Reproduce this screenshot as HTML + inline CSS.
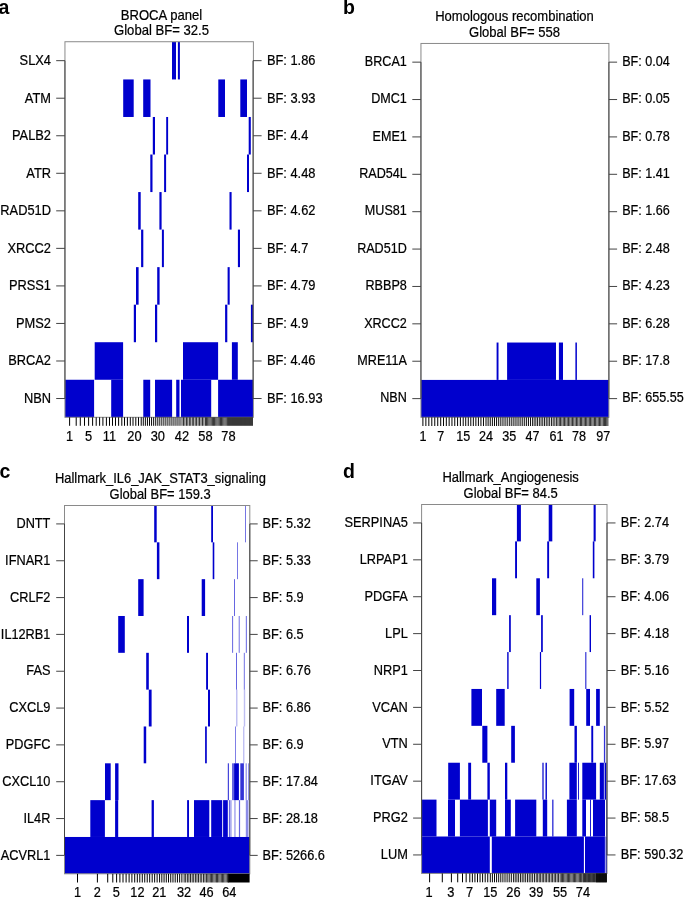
<!DOCTYPE html><html><head><meta charset="utf-8"><title>Figure</title><style>html,body{margin:0;padding:0;background:#fff;overflow:hidden;}svg{display:block;will-change:transform;}text{font-family:"Liberation Sans", sans-serif;}</style></head><body>
<svg width="685" height="898" viewBox="0 0 685 898">
<rect x="0" y="0" width="685" height="898" fill="#fff"/>
<g id="panel-a">
<text transform="translate(-1.40,13.50) scale(1,1.0)" font-size="19.5" font-weight="bold">a</text>
<text transform="translate(161.50,19.50) scale(1,1.11)" font-size="13.1" text-anchor="middle" stroke="#000" stroke-width="0.2">BROCA panel</text>
<text transform="translate(161.50,35.10) scale(1,1.11)" font-size="13.1" text-anchor="middle" stroke="#000" stroke-width="0.2">Global BF= 32.5</text>
<rect x="172.00" y="41.90" width="4.00" height="37.54" fill="#0000CD"/>
<rect x="177.90" y="41.90" width="2.00" height="37.54" fill="#0000CD"/>
<rect x="123.20" y="79.44" width="10.50" height="37.54" fill="#0000CD"/>
<rect x="143.20" y="79.44" width="7.30" height="37.54" fill="#0000CD"/>
<rect x="218.30" y="79.44" width="6.70" height="37.54" fill="#0000CD"/>
<rect x="240.30" y="79.44" width="6.70" height="37.54" fill="#0000CD"/>
<rect x="152.80" y="116.98" width="2.20" height="37.54" fill="#0000CD"/>
<rect x="166.20" y="116.98" width="1.90" height="37.54" fill="#0000CD"/>
<rect x="248.70" y="116.98" width="2.10" height="37.54" fill="#0000CD"/>
<rect x="150.30" y="154.52" width="2.20" height="37.54" fill="#0000CD"/>
<rect x="164.10" y="154.52" width="2.00" height="37.54" fill="#0000CD"/>
<rect x="247.00" y="154.52" width="2.00" height="37.54" fill="#0000CD"/>
<rect x="138.20" y="192.06" width="2.50" height="37.54" fill="#0000CD"/>
<rect x="159.40" y="192.06" width="2.20" height="37.54" fill="#0000CD"/>
<rect x="229.50" y="192.06" width="2.10" height="37.54" fill="#0000CD"/>
<rect x="141.10" y="229.60" width="2.20" height="37.54" fill="#0000CD"/>
<rect x="161.90" y="229.60" width="2.00" height="37.54" fill="#0000CD"/>
<rect x="237.90" y="229.60" width="2.10" height="37.54" fill="#0000CD"/>
<rect x="136.00" y="267.14" width="2.60" height="37.54" fill="#0000CD"/>
<rect x="157.20" y="267.14" width="2.40" height="37.54" fill="#0000CD"/>
<rect x="227.60" y="267.14" width="2.10" height="37.54" fill="#0000CD"/>
<rect x="133.80" y="304.68" width="2.20" height="37.54" fill="#0000CD"/>
<rect x="155.00" y="304.68" width="2.20" height="37.54" fill="#0000CD"/>
<rect x="225.10" y="304.68" width="2.20" height="37.54" fill="#0000CD"/>
<rect x="250.90" y="304.68" width="2.10" height="37.54" fill="#0000CD"/>
<rect x="94.70" y="342.22" width="28.40" height="37.54" fill="#0000CD"/>
<rect x="183.00" y="342.22" width="35.10" height="37.54" fill="#0000CD"/>
<rect x="231.90" y="342.22" width="5.90" height="37.54" fill="#0000CD"/>
<rect x="64.95" y="379.76" width="29.15" height="37.54" fill="#0000CD"/>
<rect x="111.20" y="379.76" width="11.90" height="37.54" fill="#0000CD"/>
<rect x="143.30" y="379.76" width="6.90" height="37.54" fill="#0000CD"/>
<rect x="155.00" y="379.76" width="17.10" height="37.54" fill="#0000CD"/>
<rect x="176.20" y="379.76" width="3.30" height="37.54" fill="#0000CD"/>
<rect x="181.00" y="379.76" width="30.20" height="37.54" fill="#0000CD"/>
<rect x="218.10" y="379.76" width="34.90" height="37.54" fill="#0000CD"/>
<rect x="64.95" y="41.73" width="188.45" height="375.57" fill="none" stroke="#8a8a8a" stroke-width="1"/>
<path d="M64.95 60.67V398.53M253.0 60.67V398.53" stroke="#444" stroke-width="1" fill="none"/>
<path d="M56.2 60.67H64.95M253.0 60.67H261.6M56.2 98.21H64.95M253.0 98.21H261.6M56.2 135.75H64.95M253.0 135.75H261.6M56.2 173.29H64.95M253.0 173.29H261.6M56.2 210.83H64.95M253.0 210.83H261.6M56.2 248.37H64.95M253.0 248.37H261.6M56.2 285.91H64.95M253.0 285.91H261.6M56.2 323.45H64.95M253.0 323.45H261.6M56.2 360.99H64.95M253.0 360.99H261.6M56.2 398.53H64.95M253.0 398.53H261.6" stroke="#444" stroke-width="1" fill="none"/>
<text transform="translate(51.00,65.07) scale(1,1.11)" font-size="12.85" text-anchor="end" stroke="#000" stroke-width="0.2">SLX4</text>
<text transform="translate(266.90,65.07) scale(1,1.11)" font-size="12.85" stroke="#000" stroke-width="0.2">BF: 1.86</text>
<text transform="translate(51.00,102.61) scale(1,1.11)" font-size="12.85" text-anchor="end" stroke="#000" stroke-width="0.2">ATM</text>
<text transform="translate(266.90,102.61) scale(1,1.11)" font-size="12.85" stroke="#000" stroke-width="0.2">BF: 3.93</text>
<text transform="translate(51.00,140.15) scale(1,1.11)" font-size="12.85" text-anchor="end" stroke="#000" stroke-width="0.2">PALB2</text>
<text transform="translate(266.90,140.15) scale(1,1.11)" font-size="12.85" stroke="#000" stroke-width="0.2">BF: 4.4</text>
<text transform="translate(51.00,177.69) scale(1,1.11)" font-size="12.85" text-anchor="end" stroke="#000" stroke-width="0.2">ATR</text>
<text transform="translate(266.90,177.69) scale(1,1.11)" font-size="12.85" stroke="#000" stroke-width="0.2">BF: 4.48</text>
<text transform="translate(51.00,215.23) scale(1,1.11)" font-size="12.85" text-anchor="end" stroke="#000" stroke-width="0.2">RAD51D</text>
<text transform="translate(266.90,215.23) scale(1,1.11)" font-size="12.85" stroke="#000" stroke-width="0.2">BF: 4.62</text>
<text transform="translate(51.00,252.77) scale(1,1.11)" font-size="12.85" text-anchor="end" stroke="#000" stroke-width="0.2">XRCC2</text>
<text transform="translate(266.90,252.77) scale(1,1.11)" font-size="12.85" stroke="#000" stroke-width="0.2">BF: 4.7</text>
<text transform="translate(51.00,290.31) scale(1,1.11)" font-size="12.85" text-anchor="end" stroke="#000" stroke-width="0.2">PRSS1</text>
<text transform="translate(266.90,290.31) scale(1,1.11)" font-size="12.85" stroke="#000" stroke-width="0.2">BF: 4.79</text>
<text transform="translate(51.00,327.85) scale(1,1.11)" font-size="12.85" text-anchor="end" stroke="#000" stroke-width="0.2">PMS2</text>
<text transform="translate(266.90,327.85) scale(1,1.11)" font-size="12.85" stroke="#000" stroke-width="0.2">BF: 4.9</text>
<text transform="translate(51.00,365.39) scale(1,1.11)" font-size="12.85" text-anchor="end" stroke="#000" stroke-width="0.2">BRCA2</text>
<text transform="translate(266.90,365.39) scale(1,1.11)" font-size="12.85" stroke="#000" stroke-width="0.2">BF: 4.46</text>
<text transform="translate(51.00,402.93) scale(1,1.11)" font-size="12.85" text-anchor="end" stroke="#000" stroke-width="0.2">NBN</text>
<text transform="translate(266.90,402.93) scale(1,1.11)" font-size="12.85" stroke="#000" stroke-width="0.2">BF: 16.93</text>
<rect x="69.10" y="417.3" width="1.00" height="8.50" fill="#000"/>
<rect x="75.70" y="417.3" width="1.00" height="8.50" fill="#000"/>
<rect x="79.80" y="417.3" width="1.00" height="8.50" fill="#000"/>
<rect x="84.00" y="417.3" width="1.00" height="8.50" fill="#000"/>
<rect x="88.10" y="417.3" width="1.00" height="8.50" fill="#000"/>
<rect x="92.10" y="417.3" width="1.00" height="8.50" fill="#000"/>
<rect x="95.70" y="417.3" width="1.00" height="8.50" fill="#000"/>
<rect x="99.10" y="417.3" width="1.00" height="8.50" fill="#000"/>
<rect x="102.40" y="417.3" width="1.00" height="8.50" fill="#000"/>
<rect x="105.90" y="417.3" width="1.00" height="8.50" fill="#000"/>
<rect x="109.00" y="417.3" width="1.00" height="8.50" fill="#000"/>
<rect x="112.00" y="417.3" width="1.00" height="8.50" fill="#000"/>
<rect x="115.00" y="417.3" width="1.00" height="8.50" fill="#000"/>
<rect x="118.10" y="417.3" width="1.00" height="8.50" fill="#000"/>
<rect x="121.30" y="417.3" width="1.00" height="8.50" fill="#000"/>
<rect x="124.00" y="417.3" width="1.00" height="8.50" fill="#000"/>
<rect x="126.90" y="417.3" width="1.00" height="8.50" fill="#000"/>
<rect x="129.80" y="417.3" width="1.00" height="8.50" fill="#000"/>
<rect x="132.50" y="417.3" width="1.00" height="8.50" fill="#000"/>
<rect x="135.30" y="417.3" width="1.00" height="8.50" fill="#000"/>
<rect x="138.00" y="417.3" width="1.00" height="8.50" fill="#000"/>
<rect x="140.72" y="417.3" width="0.97" height="8.50" fill="#000"/>
<rect x="142.79" y="417.3" width="0.97" height="8.50" fill="#000"/>
<rect x="144.87" y="417.3" width="0.97" height="8.50" fill="#000"/>
<rect x="146.94" y="417.3" width="0.97" height="8.50" fill="#000"/>
<rect x="149.02" y="417.3" width="0.97" height="8.50" fill="#000"/>
<rect x="151.09" y="417.3" width="0.97" height="8.50" fill="#000"/>
<rect x="153.17" y="417.3" width="0.97" height="8.50" fill="#000"/>
<rect x="155.24" y="417.3" width="0.97" height="8.50" fill="#000"/>
<rect x="157.33" y="417.3" width="0.95" height="8.50" fill="#000"/>
<rect x="159.34" y="417.3" width="0.95" height="8.50" fill="#000"/>
<rect x="161.36" y="417.3" width="0.95" height="8.50" fill="#000"/>
<rect x="163.38" y="417.3" width="0.95" height="8.50" fill="#000"/>
<rect x="165.39" y="417.3" width="0.95" height="8.50" fill="#000"/>
<rect x="167.41" y="417.3" width="0.95" height="8.50" fill="#000"/>
<rect x="169.43" y="417.3" width="0.95" height="8.50" fill="#000"/>
<rect x="171.44" y="417.3" width="0.95" height="8.50" fill="#000"/>
<rect x="173.46" y="417.3" width="0.95" height="8.50" fill="#000"/>
<rect x="175.48" y="417.3" width="0.95" height="8.50" fill="#000"/>
<rect x="177.49" y="417.3" width="0.95" height="8.50" fill="#000"/>
<rect x="179.51" y="417.3" width="0.95" height="8.50" fill="#000"/>
<rect x="181.60" y="417.3" width="0.80" height="8.50" fill="#000"/>
<rect x="183.06" y="417.3" width="0.80" height="8.50" fill="#000"/>
<rect x="184.53" y="417.3" width="0.80" height="8.50" fill="#000"/>
<rect x="185.99" y="417.3" width="0.80" height="8.50" fill="#000"/>
<rect x="187.45" y="417.3" width="0.80" height="8.50" fill="#000"/>
<rect x="188.91" y="417.3" width="0.80" height="8.50" fill="#000"/>
<rect x="190.38" y="417.3" width="0.80" height="8.50" fill="#000"/>
<rect x="191.84" y="417.3" width="0.80" height="8.50" fill="#000"/>
<rect x="193.30" y="417.3" width="0.80" height="8.50" fill="#000"/>
<rect x="194.76" y="417.3" width="0.80" height="8.50" fill="#000"/>
<rect x="196.23" y="417.3" width="0.80" height="8.50" fill="#000"/>
<rect x="197.69" y="417.3" width="0.80" height="8.50" fill="#000"/>
<rect x="199.15" y="417.3" width="0.80" height="8.50" fill="#000"/>
<rect x="200.61" y="417.3" width="0.80" height="8.50" fill="#000"/>
<rect x="202.08" y="417.3" width="0.80" height="8.50" fill="#000"/>
<rect x="203.54" y="417.3" width="0.80" height="8.50" fill="#000"/>
<rect x="205.01" y="417.3" width="0.78" height="8.50" fill="#000"/>
<rect x="206.17" y="417.3" width="0.78" height="8.50" fill="#000"/>
<rect x="207.32" y="417.3" width="0.78" height="8.50" fill="#000"/>
<rect x="208.48" y="417.3" width="0.78" height="8.50" fill="#000"/>
<rect x="209.63" y="417.3" width="0.78" height="8.50" fill="#000"/>
<rect x="210.79" y="417.3" width="0.78" height="8.50" fill="#000"/>
<rect x="211.94" y="417.3" width="0.78" height="8.50" fill="#000"/>
<rect x="213.10" y="417.3" width="0.78" height="8.50" fill="#000"/>
<rect x="214.25" y="417.3" width="0.78" height="8.50" fill="#000"/>
<rect x="215.41" y="417.3" width="0.78" height="8.50" fill="#000"/>
<rect x="216.56" y="417.3" width="0.78" height="8.50" fill="#000"/>
<rect x="217.72" y="417.3" width="0.78" height="8.50" fill="#000"/>
<rect x="218.87" y="417.3" width="0.78" height="8.50" fill="#000"/>
<rect x="220.03" y="417.3" width="0.78" height="8.50" fill="#000"/>
<rect x="221.18" y="417.3" width="0.78" height="8.50" fill="#000"/>
<rect x="222.34" y="417.3" width="0.78" height="8.50" fill="#000"/>
<rect x="223.49" y="417.3" width="0.78" height="8.50" fill="#000"/>
<rect x="224.65" y="417.3" width="0.78" height="8.50" fill="#000"/>
<rect x="225.80" y="417.3" width="0.78" height="8.50" fill="#000"/>
<rect x="226.96" y="417.3" width="0.78" height="8.50" fill="#000"/>
<rect x="228.11" y="417.3" width="0.78" height="8.50" fill="#000"/>
<rect x="229.11" y="417.3" width="0.78" height="8.50" fill="#000"/>
<rect x="230.12" y="417.3" width="0.78" height="8.50" fill="#000"/>
<rect x="231.12" y="417.3" width="0.78" height="8.50" fill="#000"/>
<rect x="232.13" y="417.3" width="0.78" height="8.50" fill="#000"/>
<rect x="233.13" y="417.3" width="0.78" height="8.50" fill="#000"/>
<rect x="234.14" y="417.3" width="0.78" height="8.50" fill="#000"/>
<rect x="235.14" y="417.3" width="0.78" height="8.50" fill="#000"/>
<rect x="236.14" y="417.3" width="0.78" height="8.50" fill="#000"/>
<rect x="237.15" y="417.3" width="0.78" height="8.50" fill="#000"/>
<rect x="238.15" y="417.3" width="0.78" height="8.50" fill="#000"/>
<rect x="239.16" y="417.3" width="0.78" height="8.50" fill="#000"/>
<rect x="240.16" y="417.3" width="0.78" height="8.50" fill="#000"/>
<rect x="241.16" y="417.3" width="0.78" height="8.50" fill="#000"/>
<rect x="242.17" y="417.3" width="0.78" height="8.50" fill="#000"/>
<rect x="243.17" y="417.3" width="0.78" height="8.50" fill="#000"/>
<rect x="244.18" y="417.3" width="0.78" height="8.50" fill="#000"/>
<rect x="245.18" y="417.3" width="0.78" height="8.50" fill="#000"/>
<rect x="246.19" y="417.3" width="0.78" height="8.50" fill="#000"/>
<rect x="247.19" y="417.3" width="0.78" height="8.50" fill="#000"/>
<rect x="248.19" y="417.3" width="0.78" height="8.50" fill="#000"/>
<rect x="249.20" y="417.3" width="0.78" height="8.50" fill="#000"/>
<rect x="250.20" y="417.3" width="0.78" height="8.50" fill="#000"/>
<rect x="251.21" y="417.3" width="0.78" height="8.50" fill="#000"/>
<rect x="252.21" y="417.3" width="0.78" height="8.50" fill="#000"/>
<text transform="translate(69.60,440.70) scale(1,1.11)" font-size="12.85" text-anchor="middle" stroke="#000" stroke-width="0.2">1</text>
<text transform="translate(88.60,440.70) scale(1,1.11)" font-size="12.85" text-anchor="middle" stroke="#000" stroke-width="0.2">5</text>
<text transform="translate(109.50,440.70) scale(1,1.11)" font-size="12.85" text-anchor="middle" stroke="#000" stroke-width="0.2">11</text>
<text transform="translate(134.50,440.70) scale(1,1.11)" font-size="12.85" text-anchor="middle" stroke="#000" stroke-width="0.2">20</text>
<text transform="translate(157.80,440.70) scale(1,1.11)" font-size="12.85" text-anchor="middle" stroke="#000" stroke-width="0.2">30</text>
<text transform="translate(182.00,440.70) scale(1,1.11)" font-size="12.85" text-anchor="middle" stroke="#000" stroke-width="0.2">42</text>
<text transform="translate(205.40,440.70) scale(1,1.11)" font-size="12.85" text-anchor="middle" stroke="#000" stroke-width="0.2">58</text>
<text transform="translate(228.50,440.70) scale(1,1.11)" font-size="12.85" text-anchor="middle" stroke="#000" stroke-width="0.2">78</text>
</g>
<g id="panel-b">
<text transform="translate(343.10,13.60) scale(1,1.0)" font-size="19.5" font-weight="bold">b</text>
<text transform="translate(514.50,21.30) scale(1,1.11)" font-size="13.05" text-anchor="middle" stroke="#000" stroke-width="0.2">Homologous recombination</text>
<text transform="translate(514.50,37.10) scale(1,1.11)" font-size="13.05" text-anchor="middle" stroke="#000" stroke-width="0.2">Global BF= 558</text>
<rect x="496.60" y="342.53" width="1.90" height="37.38" fill="#0000CD"/>
<rect x="507.10" y="342.53" width="48.90" height="37.38" fill="#0000CD"/>
<rect x="558.90" y="342.53" width="4.10" height="37.38" fill="#0000CD"/>
<rect x="575.40" y="342.53" width="1.50" height="37.38" fill="#0000CD"/>
<rect x="420.95" y="379.92" width="187.95" height="37.38" fill="#0000CD"/>
<rect x="420.95" y="43.46" width="187.95" height="373.84" fill="none" stroke="#8a8a8a" stroke-width="1"/>
<path d="M420.95 62.15V398.61M608.9 62.15V398.61" stroke="#444" stroke-width="1" fill="none"/>
<path d="M412.3 62.15H420.95M608.9 62.15H617.1M412.3 99.54H420.95M608.9 99.54H617.1M412.3 136.92H420.95M608.9 136.92H617.1M412.3 174.30H420.95M608.9 174.30H617.1M412.3 211.69H420.95M608.9 211.69H617.1M412.3 249.07H420.95M608.9 249.07H617.1M412.3 286.46H420.95M608.9 286.46H617.1M412.3 323.84H420.95M608.9 323.84H617.1M412.3 361.22H420.95M608.9 361.22H617.1M412.3 398.61H420.95M608.9 398.61H617.1" stroke="#444" stroke-width="1" fill="none"/>
<text transform="translate(406.80,65.85) scale(1,1.11)" font-size="12.6" text-anchor="end" stroke="#000" stroke-width="0.2">BRCA1</text>
<text transform="translate(622.20,65.85) scale(1,1.11)" font-size="12.6" stroke="#000" stroke-width="0.2">BF: 0.04</text>
<text transform="translate(406.80,103.24) scale(1,1.11)" font-size="12.6" text-anchor="end" stroke="#000" stroke-width="0.2">DMC1</text>
<text transform="translate(622.20,103.24) scale(1,1.11)" font-size="12.6" stroke="#000" stroke-width="0.2">BF: 0.05</text>
<text transform="translate(406.80,140.62) scale(1,1.11)" font-size="12.6" text-anchor="end" stroke="#000" stroke-width="0.2">EME1</text>
<text transform="translate(622.20,140.62) scale(1,1.11)" font-size="12.6" stroke="#000" stroke-width="0.2">BF: 0.78</text>
<text transform="translate(406.80,178.00) scale(1,1.11)" font-size="12.6" text-anchor="end" stroke="#000" stroke-width="0.2">RAD54L</text>
<text transform="translate(622.20,178.00) scale(1,1.11)" font-size="12.6" stroke="#000" stroke-width="0.2">BF: 1.41</text>
<text transform="translate(406.80,215.39) scale(1,1.11)" font-size="12.6" text-anchor="end" stroke="#000" stroke-width="0.2">MUS81</text>
<text transform="translate(622.20,215.39) scale(1,1.11)" font-size="12.6" stroke="#000" stroke-width="0.2">BF: 1.66</text>
<text transform="translate(406.80,252.77) scale(1,1.11)" font-size="12.6" text-anchor="end" stroke="#000" stroke-width="0.2">RAD51D</text>
<text transform="translate(622.20,252.77) scale(1,1.11)" font-size="12.6" stroke="#000" stroke-width="0.2">BF: 2.48</text>
<text transform="translate(406.80,290.16) scale(1,1.11)" font-size="12.6" text-anchor="end" stroke="#000" stroke-width="0.2">RBBP8</text>
<text transform="translate(622.20,290.16) scale(1,1.11)" font-size="12.6" stroke="#000" stroke-width="0.2">BF: 4.23</text>
<text transform="translate(406.80,327.54) scale(1,1.11)" font-size="12.6" text-anchor="end" stroke="#000" stroke-width="0.2">XRCC2</text>
<text transform="translate(622.20,327.54) scale(1,1.11)" font-size="12.6" stroke="#000" stroke-width="0.2">BF: 6.28</text>
<text transform="translate(406.80,364.92) scale(1,1.11)" font-size="12.6" text-anchor="end" stroke="#000" stroke-width="0.2">MRE11A</text>
<text transform="translate(622.20,364.92) scale(1,1.11)" font-size="12.6" stroke="#000" stroke-width="0.2">BF: 17.8</text>
<text transform="translate(406.80,402.31) scale(1,1.11)" font-size="12.6" text-anchor="end" stroke="#000" stroke-width="0.2">NBN</text>
<text transform="translate(622.20,402.31) scale(1,1.11)" font-size="12.6" stroke="#000" stroke-width="0.2">BF: 655.55</text>
<rect x="422.40" y="417.3" width="1.00" height="8.70" fill="#000"/>
<rect x="425.37" y="417.3" width="1.00" height="8.70" fill="#000"/>
<rect x="428.33" y="417.3" width="1.00" height="8.70" fill="#000"/>
<rect x="431.30" y="417.3" width="1.00" height="8.70" fill="#000"/>
<rect x="434.27" y="417.3" width="1.00" height="8.70" fill="#000"/>
<rect x="437.23" y="417.3" width="1.00" height="8.70" fill="#000"/>
<rect x="440.20" y="417.3" width="1.00" height="8.70" fill="#000"/>
<rect x="443.01" y="417.3" width="1.00" height="8.70" fill="#000"/>
<rect x="445.82" y="417.3" width="1.00" height="8.70" fill="#000"/>
<rect x="448.64" y="417.3" width="1.00" height="8.70" fill="#000"/>
<rect x="451.45" y="417.3" width="1.00" height="8.70" fill="#000"/>
<rect x="454.26" y="417.3" width="1.00" height="8.70" fill="#000"/>
<rect x="457.07" y="417.3" width="1.00" height="8.70" fill="#000"/>
<rect x="459.89" y="417.3" width="1.00" height="8.70" fill="#000"/>
<rect x="462.70" y="417.3" width="1.00" height="8.70" fill="#000"/>
<rect x="465.23" y="417.3" width="1.00" height="8.70" fill="#000"/>
<rect x="467.77" y="417.3" width="1.00" height="8.70" fill="#000"/>
<rect x="470.30" y="417.3" width="1.00" height="8.70" fill="#000"/>
<rect x="472.83" y="417.3" width="1.00" height="8.70" fill="#000"/>
<rect x="475.37" y="417.3" width="1.00" height="8.70" fill="#000"/>
<rect x="477.90" y="417.3" width="1.00" height="8.70" fill="#000"/>
<rect x="480.43" y="417.3" width="1.00" height="8.70" fill="#000"/>
<rect x="482.97" y="417.3" width="1.00" height="8.70" fill="#000"/>
<rect x="485.51" y="417.3" width="0.98" height="8.70" fill="#000"/>
<rect x="487.63" y="417.3" width="0.98" height="8.70" fill="#000"/>
<rect x="489.75" y="417.3" width="0.98" height="8.70" fill="#000"/>
<rect x="491.87" y="417.3" width="0.98" height="8.70" fill="#000"/>
<rect x="493.98" y="417.3" width="0.98" height="8.70" fill="#000"/>
<rect x="496.10" y="417.3" width="0.98" height="8.70" fill="#000"/>
<rect x="498.22" y="417.3" width="0.98" height="8.70" fill="#000"/>
<rect x="500.34" y="417.3" width="0.98" height="8.70" fill="#000"/>
<rect x="502.46" y="417.3" width="0.98" height="8.70" fill="#000"/>
<rect x="504.57" y="417.3" width="0.98" height="8.70" fill="#000"/>
<rect x="506.69" y="417.3" width="0.98" height="8.70" fill="#000"/>
<rect x="508.84" y="417.3" width="0.92" height="8.70" fill="#000"/>
<rect x="510.76" y="417.3" width="0.92" height="8.70" fill="#000"/>
<rect x="512.69" y="417.3" width="0.92" height="8.70" fill="#000"/>
<rect x="514.61" y="417.3" width="0.92" height="8.70" fill="#000"/>
<rect x="516.54" y="417.3" width="0.92" height="8.70" fill="#000"/>
<rect x="518.46" y="417.3" width="0.92" height="8.70" fill="#000"/>
<rect x="520.39" y="417.3" width="0.92" height="8.70" fill="#000"/>
<rect x="522.31" y="417.3" width="0.92" height="8.70" fill="#000"/>
<rect x="524.24" y="417.3" width="0.92" height="8.70" fill="#000"/>
<rect x="526.16" y="417.3" width="0.92" height="8.70" fill="#000"/>
<rect x="528.09" y="417.3" width="0.92" height="8.70" fill="#000"/>
<rect x="530.01" y="417.3" width="0.92" height="8.70" fill="#000"/>
<rect x="531.96" y="417.3" width="0.87" height="8.70" fill="#000"/>
<rect x="533.69" y="417.3" width="0.87" height="8.70" fill="#000"/>
<rect x="535.42" y="417.3" width="0.87" height="8.70" fill="#000"/>
<rect x="537.15" y="417.3" width="0.87" height="8.70" fill="#000"/>
<rect x="538.88" y="417.3" width="0.87" height="8.70" fill="#000"/>
<rect x="540.61" y="417.3" width="0.87" height="8.70" fill="#000"/>
<rect x="542.34" y="417.3" width="0.87" height="8.70" fill="#000"/>
<rect x="544.06" y="417.3" width="0.87" height="8.70" fill="#000"/>
<rect x="545.79" y="417.3" width="0.87" height="8.70" fill="#000"/>
<rect x="547.52" y="417.3" width="0.87" height="8.70" fill="#000"/>
<rect x="549.25" y="417.3" width="0.87" height="8.70" fill="#000"/>
<rect x="550.98" y="417.3" width="0.87" height="8.70" fill="#000"/>
<rect x="552.71" y="417.3" width="0.87" height="8.70" fill="#000"/>
<rect x="554.44" y="417.3" width="0.87" height="8.70" fill="#000"/>
<rect x="556.21" y="417.3" width="0.78" height="8.70" fill="#000"/>
<rect x="557.53" y="417.3" width="0.78" height="8.70" fill="#000"/>
<rect x="558.86" y="417.3" width="0.78" height="8.70" fill="#000"/>
<rect x="560.18" y="417.3" width="0.78" height="8.70" fill="#000"/>
<rect x="561.50" y="417.3" width="0.78" height="8.70" fill="#000"/>
<rect x="562.83" y="417.3" width="0.78" height="8.70" fill="#000"/>
<rect x="564.15" y="417.3" width="0.78" height="8.70" fill="#000"/>
<rect x="565.47" y="417.3" width="0.78" height="8.70" fill="#000"/>
<rect x="566.80" y="417.3" width="0.78" height="8.70" fill="#000"/>
<rect x="568.12" y="417.3" width="0.78" height="8.70" fill="#000"/>
<rect x="569.45" y="417.3" width="0.78" height="8.70" fill="#000"/>
<rect x="570.77" y="417.3" width="0.78" height="8.70" fill="#000"/>
<rect x="572.09" y="417.3" width="0.78" height="8.70" fill="#000"/>
<rect x="573.42" y="417.3" width="0.78" height="8.70" fill="#000"/>
<rect x="574.74" y="417.3" width="0.78" height="8.70" fill="#000"/>
<rect x="576.06" y="417.3" width="0.78" height="8.70" fill="#000"/>
<rect x="577.39" y="417.3" width="0.78" height="8.70" fill="#000"/>
<rect x="578.71" y="417.3" width="0.78" height="8.70" fill="#000"/>
<rect x="579.98" y="417.3" width="0.78" height="8.70" fill="#000"/>
<rect x="581.26" y="417.3" width="0.78" height="8.70" fill="#000"/>
<rect x="582.53" y="417.3" width="0.78" height="8.70" fill="#000"/>
<rect x="583.80" y="417.3" width="0.78" height="8.70" fill="#000"/>
<rect x="585.08" y="417.3" width="0.78" height="8.70" fill="#000"/>
<rect x="586.35" y="417.3" width="0.78" height="8.70" fill="#000"/>
<rect x="587.63" y="417.3" width="0.78" height="8.70" fill="#000"/>
<rect x="588.90" y="417.3" width="0.78" height="8.70" fill="#000"/>
<rect x="590.17" y="417.3" width="0.78" height="8.70" fill="#000"/>
<rect x="591.45" y="417.3" width="0.78" height="8.70" fill="#000"/>
<rect x="592.72" y="417.3" width="0.78" height="8.70" fill="#000"/>
<rect x="593.99" y="417.3" width="0.78" height="8.70" fill="#000"/>
<rect x="595.27" y="417.3" width="0.78" height="8.70" fill="#000"/>
<rect x="596.54" y="417.3" width="0.78" height="8.70" fill="#000"/>
<rect x="597.82" y="417.3" width="0.78" height="8.70" fill="#000"/>
<rect x="599.09" y="417.3" width="0.78" height="8.70" fill="#000"/>
<rect x="600.36" y="417.3" width="0.78" height="8.70" fill="#000"/>
<rect x="601.64" y="417.3" width="0.78" height="8.70" fill="#000"/>
<rect x="602.91" y="417.3" width="0.78" height="8.70" fill="#000"/>
<rect x="604.06" y="417.3" width="0.78" height="8.70" fill="#000"/>
<rect x="605.21" y="417.3" width="0.78" height="8.70" fill="#000"/>
<rect x="606.36" y="417.3" width="0.78" height="8.70" fill="#000"/>
<rect x="607.51" y="417.3" width="0.78" height="8.70" fill="#000"/>
<text transform="translate(422.90,440.70) scale(1,1.11)" font-size="12.6" text-anchor="middle" stroke="#000" stroke-width="0.2">1</text>
<text transform="translate(440.70,440.70) scale(1,1.11)" font-size="12.6" text-anchor="middle" stroke="#000" stroke-width="0.2">7</text>
<text transform="translate(463.20,440.70) scale(1,1.11)" font-size="12.6" text-anchor="middle" stroke="#000" stroke-width="0.2">15</text>
<text transform="translate(486.00,440.70) scale(1,1.11)" font-size="12.6" text-anchor="middle" stroke="#000" stroke-width="0.2">24</text>
<text transform="translate(509.30,440.70) scale(1,1.11)" font-size="12.6" text-anchor="middle" stroke="#000" stroke-width="0.2">35</text>
<text transform="translate(532.40,440.70) scale(1,1.11)" font-size="12.6" text-anchor="middle" stroke="#000" stroke-width="0.2">47</text>
<text transform="translate(556.60,440.70) scale(1,1.11)" font-size="12.6" text-anchor="middle" stroke="#000" stroke-width="0.2">61</text>
<text transform="translate(579.10,440.70) scale(1,1.11)" font-size="12.6" text-anchor="middle" stroke="#000" stroke-width="0.2">78</text>
<text transform="translate(603.30,440.70) scale(1,1.11)" font-size="12.6" text-anchor="middle" stroke="#000" stroke-width="0.2">97</text>
</g>
<g id="panel-c">
<text transform="translate(-0.46,477.80) scale(1,1.0)" font-size="19.5" font-weight="bold">c</text>
<text transform="translate(160.40,482.90) scale(1,1.11)" font-size="12.95" text-anchor="middle" stroke="#000" stroke-width="0.2">Hallmark_IL6_JAK_STAT3_signaling</text>
<text transform="translate(160.10,498.60) scale(1,1.11)" font-size="12.95" text-anchor="middle" stroke="#000" stroke-width="0.2">Global BF= 159.3</text>
<rect x="154.20" y="505.50" width="2.50" height="36.83" fill="#0000CD"/>
<rect x="211.20" y="505.50" width="1.80" height="36.83" fill="#0000CD"/>
<rect x="245.10" y="505.50" width="0.90" height="36.83" fill="#0000CD" fill-opacity="0.6"/>
<rect x="156.90" y="542.33" width="2.50" height="36.83" fill="#0000CD"/>
<rect x="212.70" y="542.33" width="1.60" height="36.83" fill="#0000CD"/>
<rect x="237.00" y="542.33" width="0.90" height="36.83" fill="#0000CD" fill-opacity="0.6"/>
<rect x="138.20" y="579.16" width="5.40" height="36.83" fill="#0000CD"/>
<rect x="201.70" y="579.16" width="3.40" height="36.83" fill="#0000CD"/>
<rect x="234.00" y="579.16" width="1.00" height="36.83" fill="#0000CD" fill-opacity="0.6"/>
<rect x="118.20" y="615.99" width="6.60" height="36.83" fill="#0000CD"/>
<rect x="187.00" y="615.99" width="2.00" height="36.83" fill="#0000CD"/>
<rect x="232.10" y="615.99" width="1.00" height="36.83" fill="#0000CD" fill-opacity="0.6"/>
<rect x="238.60" y="615.99" width="1.40" height="36.83" fill="#0000CD" fill-opacity="0.4"/>
<rect x="245.80" y="615.99" width="1.20" height="36.83" fill="#0000CD" fill-opacity="0.5"/>
<rect x="146.20" y="652.82" width="2.60" height="36.83" fill="#0000CD"/>
<rect x="206.10" y="652.82" width="1.90" height="36.83" fill="#0000CD"/>
<rect x="236.00" y="652.82" width="1.00" height="36.83" fill="#0000CD" fill-opacity="0.6"/>
<rect x="243.80" y="652.82" width="1.10" height="36.83" fill="#0000CD" fill-opacity="0.5"/>
<rect x="148.80" y="689.65" width="2.80" height="36.83" fill="#0000CD"/>
<rect x="208.00" y="689.65" width="2.00" height="36.83" fill="#0000CD"/>
<rect x="236.00" y="689.65" width="1.50" height="36.83" fill="#0000CD" fill-opacity="0.25"/>
<rect x="243.80" y="689.65" width="1.40" height="36.83" fill="#0000CD" fill-opacity="0.25"/>
<rect x="143.70" y="726.48" width="2.50" height="36.83" fill="#0000CD"/>
<rect x="205.10" y="726.48" width="1.70" height="36.83" fill="#0000CD"/>
<rect x="235.00" y="726.48" width="1.00" height="36.83" fill="#0000CD" fill-opacity="0.5"/>
<rect x="243.30" y="726.48" width="1.00" height="36.83" fill="#0000CD" fill-opacity="0.35"/>
<rect x="105.00" y="763.31" width="5.70" height="36.83" fill="#0000CD"/>
<rect x="115.10" y="763.31" width="3.40" height="36.83" fill="#0000CD"/>
<rect x="227.80" y="763.31" width="1.10" height="36.83" fill="#0000CD" fill-opacity="0.8"/>
<rect x="232.00" y="763.31" width="2.10" height="36.83" fill="#0000CD" fill-opacity="0.6"/>
<rect x="234.10" y="763.31" width="4.80" height="36.83" fill="#0000CD"/>
<rect x="240.30" y="763.31" width="3.60" height="36.83" fill="#0000CD" fill-opacity="0.8"/>
<rect x="245.70" y="763.31" width="0.90" height="36.83" fill="#0000CD" fill-opacity="0.6"/>
<rect x="248.30" y="763.31" width="0.70" height="36.83" fill="#0000CD" fill-opacity="0.6"/>
<rect x="90.30" y="800.14" width="14.60" height="36.83" fill="#0000CD"/>
<rect x="115.10" y="800.14" width="3.10" height="36.83" fill="#0000CD"/>
<rect x="151.60" y="800.14" width="2.30" height="36.83" fill="#0000CD"/>
<rect x="187.10" y="800.14" width="1.90" height="36.83" fill="#0000CD"/>
<rect x="194.00" y="800.14" width="15.30" height="36.83" fill="#0000CD"/>
<rect x="211.20" y="800.14" width="11.00" height="36.83" fill="#0000CD"/>
<rect x="223.10" y="800.14" width="4.70" height="36.83" fill="#0000CD"/>
<rect x="228.90" y="800.14" width="1.10" height="36.83" fill="#0000CD" fill-opacity="0.6"/>
<rect x="230.20" y="800.14" width="1.40" height="36.83" fill="#0000CD" fill-opacity="0.4"/>
<rect x="234.30" y="800.14" width="1.30" height="36.83" fill="#0000CD" fill-opacity="0.4"/>
<rect x="238.90" y="800.14" width="1.20" height="36.83" fill="#0000CD" fill-opacity="0.6"/>
<rect x="245.80" y="800.14" width="2.70" height="36.83" fill="#0000CD" fill-opacity="0.45"/>
<rect x="64.50" y="836.97" width="185.30" height="36.83" fill="#0000CD"/>
<rect x="64.5" y="505.5" width="185.30" height="368.30" fill="none" stroke="#8a8a8a" stroke-width="1"/>
<path d="M64.5 523.91V855.38M249.8 523.91V855.38" stroke="#444" stroke-width="1" fill="none"/>
<path d="M56.2 523.91H64.5M249.8 523.91H257.7M56.2 560.75H64.5M249.8 560.75H257.7M56.2 597.58H64.5M249.8 597.58H257.7M56.2 634.40H64.5M249.8 634.40H257.7M56.2 671.24H64.5M249.8 671.24H257.7M56.2 708.07H64.5M249.8 708.07H257.7M56.2 744.89H64.5M249.8 744.89H257.7M56.2 781.72H64.5M249.8 781.72H257.7M56.2 818.56H64.5M249.8 818.56H257.7M56.2 855.38H64.5M249.8 855.38H257.7" stroke="#444" stroke-width="1" fill="none"/>
<text transform="translate(50.40,528.12) scale(1,1.11)" font-size="12.75" text-anchor="end" stroke="#000" stroke-width="0.2">DNTT</text>
<text transform="translate(262.60,528.12) scale(1,1.11)" font-size="12.75" stroke="#000" stroke-width="0.2">BF: 5.32</text>
<text transform="translate(50.40,564.95) scale(1,1.11)" font-size="12.75" text-anchor="end" stroke="#000" stroke-width="0.2">IFNAR1</text>
<text transform="translate(262.60,564.95) scale(1,1.11)" font-size="12.75" stroke="#000" stroke-width="0.2">BF: 5.33</text>
<text transform="translate(50.40,601.78) scale(1,1.11)" font-size="12.75" text-anchor="end" stroke="#000" stroke-width="0.2">CRLF2</text>
<text transform="translate(262.60,601.78) scale(1,1.11)" font-size="12.75" stroke="#000" stroke-width="0.2">BF: 5.9</text>
<text transform="translate(50.40,638.61) scale(1,1.11)" font-size="12.75" text-anchor="end" stroke="#000" stroke-width="0.2">IL12RB1</text>
<text transform="translate(262.60,638.61) scale(1,1.11)" font-size="12.75" stroke="#000" stroke-width="0.2">BF: 6.5</text>
<text transform="translate(50.40,675.44) scale(1,1.11)" font-size="12.75" text-anchor="end" stroke="#000" stroke-width="0.2">FAS</text>
<text transform="translate(262.60,675.44) scale(1,1.11)" font-size="12.75" stroke="#000" stroke-width="0.2">BF: 6.76</text>
<text transform="translate(50.40,712.27) scale(1,1.11)" font-size="12.75" text-anchor="end" stroke="#000" stroke-width="0.2">CXCL9</text>
<text transform="translate(262.60,712.27) scale(1,1.11)" font-size="12.75" stroke="#000" stroke-width="0.2">BF: 6.86</text>
<text transform="translate(50.40,749.10) scale(1,1.11)" font-size="12.75" text-anchor="end" stroke="#000" stroke-width="0.2">PDGFC</text>
<text transform="translate(262.60,749.10) scale(1,1.11)" font-size="12.75" stroke="#000" stroke-width="0.2">BF: 6.9</text>
<text transform="translate(50.40,785.92) scale(1,1.11)" font-size="12.75" text-anchor="end" stroke="#000" stroke-width="0.2">CXCL10</text>
<text transform="translate(262.60,785.92) scale(1,1.11)" font-size="12.75" stroke="#000" stroke-width="0.2">BF: 17.84</text>
<text transform="translate(50.40,822.76) scale(1,1.11)" font-size="12.75" text-anchor="end" stroke="#000" stroke-width="0.2">IL4R</text>
<text transform="translate(262.60,822.76) scale(1,1.11)" font-size="12.75" stroke="#000" stroke-width="0.2">BF: 28.18</text>
<text transform="translate(50.40,859.59) scale(1,1.11)" font-size="12.75" text-anchor="end" stroke="#000" stroke-width="0.2">ACVRL1</text>
<text transform="translate(262.60,859.59) scale(1,1.11)" font-size="12.75" stroke="#000" stroke-width="0.2">BF: 5266.6</text>
<rect x="77.00" y="873.8" width="1.00" height="8.70" fill="#000"/>
<rect x="96.90" y="873.8" width="1.00" height="8.70" fill="#000"/>
<rect x="107.20" y="873.8" width="1.00" height="8.70" fill="#000"/>
<rect x="112.30" y="873.8" width="1.00" height="8.70" fill="#000"/>
<rect x="116.10" y="873.8" width="1.00" height="8.70" fill="#000"/>
<rect x="119.40" y="873.8" width="1.00" height="8.70" fill="#000"/>
<rect x="122.50" y="873.8" width="1.00" height="8.70" fill="#000"/>
<rect x="125.60" y="873.8" width="1.00" height="8.70" fill="#000"/>
<rect x="128.60" y="873.8" width="1.00" height="8.70" fill="#000"/>
<rect x="131.40" y="873.8" width="1.00" height="8.70" fill="#000"/>
<rect x="134.20" y="873.8" width="1.00" height="8.70" fill="#000"/>
<rect x="136.80" y="873.8" width="1.00" height="8.70" fill="#000"/>
<rect x="139.28" y="873.8" width="1.00" height="8.70" fill="#000"/>
<rect x="141.76" y="873.8" width="1.00" height="8.70" fill="#000"/>
<rect x="144.23" y="873.8" width="1.00" height="8.70" fill="#000"/>
<rect x="146.71" y="873.8" width="1.00" height="8.70" fill="#000"/>
<rect x="149.19" y="873.8" width="1.00" height="8.70" fill="#000"/>
<rect x="151.67" y="873.8" width="1.00" height="8.70" fill="#000"/>
<rect x="154.14" y="873.8" width="1.00" height="8.70" fill="#000"/>
<rect x="156.62" y="873.8" width="1.00" height="8.70" fill="#000"/>
<rect x="159.10" y="873.8" width="1.00" height="8.70" fill="#000"/>
<rect x="161.33" y="873.8" width="1.00" height="8.70" fill="#000"/>
<rect x="163.55" y="873.8" width="1.00" height="8.70" fill="#000"/>
<rect x="165.78" y="873.8" width="1.00" height="8.70" fill="#000"/>
<rect x="168.01" y="873.8" width="1.00" height="8.70" fill="#000"/>
<rect x="170.24" y="873.8" width="1.00" height="8.70" fill="#000"/>
<rect x="172.46" y="873.8" width="1.00" height="8.70" fill="#000"/>
<rect x="174.69" y="873.8" width="1.00" height="8.70" fill="#000"/>
<rect x="176.92" y="873.8" width="1.00" height="8.70" fill="#000"/>
<rect x="179.15" y="873.8" width="1.00" height="8.70" fill="#000"/>
<rect x="181.37" y="873.8" width="1.00" height="8.70" fill="#000"/>
<rect x="183.68" y="873.8" width="0.84" height="8.70" fill="#000"/>
<rect x="185.29" y="873.8" width="0.84" height="8.70" fill="#000"/>
<rect x="186.90" y="873.8" width="0.84" height="8.70" fill="#000"/>
<rect x="188.50" y="873.8" width="0.84" height="8.70" fill="#000"/>
<rect x="190.11" y="873.8" width="0.84" height="8.70" fill="#000"/>
<rect x="191.72" y="873.8" width="0.84" height="8.70" fill="#000"/>
<rect x="193.32" y="873.8" width="0.84" height="8.70" fill="#000"/>
<rect x="194.93" y="873.8" width="0.84" height="8.70" fill="#000"/>
<rect x="196.54" y="873.8" width="0.84" height="8.70" fill="#000"/>
<rect x="198.15" y="873.8" width="0.84" height="8.70" fill="#000"/>
<rect x="199.75" y="873.8" width="0.84" height="8.70" fill="#000"/>
<rect x="201.36" y="873.8" width="0.84" height="8.70" fill="#000"/>
<rect x="202.97" y="873.8" width="0.84" height="8.70" fill="#000"/>
<rect x="204.57" y="873.8" width="0.84" height="8.70" fill="#000"/>
<rect x="206.21" y="873.8" width="0.78" height="8.70" fill="#000"/>
<rect x="207.43" y="873.8" width="0.78" height="8.70" fill="#000"/>
<rect x="208.65" y="873.8" width="0.78" height="8.70" fill="#000"/>
<rect x="209.88" y="873.8" width="0.78" height="8.70" fill="#000"/>
<rect x="211.10" y="873.8" width="0.78" height="8.70" fill="#000"/>
<rect x="212.32" y="873.8" width="0.78" height="8.70" fill="#000"/>
<rect x="213.54" y="873.8" width="0.78" height="8.70" fill="#000"/>
<rect x="214.77" y="873.8" width="0.78" height="8.70" fill="#000"/>
<rect x="215.99" y="873.8" width="0.78" height="8.70" fill="#000"/>
<rect x="217.21" y="873.8" width="0.78" height="8.70" fill="#000"/>
<rect x="218.43" y="873.8" width="0.78" height="8.70" fill="#000"/>
<rect x="219.65" y="873.8" width="0.78" height="8.70" fill="#000"/>
<rect x="220.88" y="873.8" width="0.78" height="8.70" fill="#000"/>
<rect x="222.10" y="873.8" width="0.78" height="8.70" fill="#000"/>
<rect x="223.32" y="873.8" width="0.78" height="8.70" fill="#000"/>
<rect x="224.54" y="873.8" width="0.78" height="8.70" fill="#000"/>
<rect x="225.77" y="873.8" width="0.78" height="8.70" fill="#000"/>
<rect x="226.99" y="873.8" width="0.78" height="8.70" fill="#000"/>
<rect x="228.21" y="873.8" width="0.78" height="8.70" fill="#000"/>
<rect x="228.3" y="873.8" width="21.30" height="8.70" fill="#000"/>
<text transform="translate(77.50,896.60) scale(1,1.11)" font-size="12.75" text-anchor="middle" stroke="#000" stroke-width="0.2">1</text>
<text transform="translate(97.40,896.60) scale(1,1.11)" font-size="12.75" text-anchor="middle" stroke="#000" stroke-width="0.2">2</text>
<text transform="translate(116.40,896.60) scale(1,1.11)" font-size="12.75" text-anchor="middle" stroke="#000" stroke-width="0.2">5</text>
<text transform="translate(137.40,896.60) scale(1,1.11)" font-size="12.75" text-anchor="middle" stroke="#000" stroke-width="0.2">12</text>
<text transform="translate(159.30,896.60) scale(1,1.11)" font-size="12.75" text-anchor="middle" stroke="#000" stroke-width="0.2">21</text>
<text transform="translate(184.10,896.60) scale(1,1.11)" font-size="12.75" text-anchor="middle" stroke="#000" stroke-width="0.2">32</text>
<text transform="translate(206.60,896.60) scale(1,1.11)" font-size="12.75" text-anchor="middle" stroke="#000" stroke-width="0.2">46</text>
<text transform="translate(229.30,896.60) scale(1,1.11)" font-size="12.75" text-anchor="middle" stroke="#000" stroke-width="0.2">64</text>
</g>
<g id="panel-d">
<text transform="translate(343.10,477.80) scale(1,1.0)" font-size="19.5" font-weight="bold">d</text>
<text transform="translate(510.60,482.40) scale(1,1.11)" font-size="13.0" text-anchor="middle" stroke="#000" stroke-width="0.2">Hallmark_Angiogenesis</text>
<text transform="translate(510.70,498.00) scale(1,1.11)" font-size="13.0" text-anchor="middle" stroke="#000" stroke-width="0.2">Global BF= 84.5</text>
<rect x="516.90" y="504.50" width="4.00" height="36.89" fill="#0000CD"/>
<rect x="548.70" y="504.50" width="3.60" height="36.89" fill="#0000CD"/>
<rect x="593.60" y="504.50" width="2.10" height="36.89" fill="#0000CD"/>
<rect x="515.10" y="541.39" width="1.90" height="36.89" fill="#0000CD"/>
<rect x="547.20" y="541.39" width="1.90" height="36.89" fill="#0000CD"/>
<rect x="592.80" y="541.39" width="1.60" height="36.89" fill="#0000CD"/>
<rect x="492.00" y="578.28" width="4.20" height="36.89" fill="#0000CD"/>
<rect x="536.30" y="578.28" width="3.60" height="36.89" fill="#0000CD"/>
<rect x="582.00" y="578.28" width="1.30" height="36.89" fill="#0000CD" fill-opacity="0.7"/>
<rect x="509.10" y="615.17" width="1.70" height="36.89" fill="#0000CD"/>
<rect x="541.10" y="615.17" width="1.70" height="36.89" fill="#0000CD"/>
<rect x="589.60" y="615.17" width="1.40" height="36.89" fill="#0000CD"/>
<rect x="507.20" y="652.06" width="1.40" height="36.89" fill="#0000CD"/>
<rect x="539.90" y="652.06" width="1.20" height="36.89" fill="#0000CD"/>
<rect x="585.20" y="652.06" width="1.20" height="36.89" fill="#0000CD" fill-opacity="0.8"/>
<rect x="471.40" y="688.95" width="10.60" height="36.89" fill="#0000CD"/>
<rect x="496.20" y="688.95" width="8.50" height="36.89" fill="#0000CD"/>
<rect x="569.60" y="688.95" width="4.60" height="36.89" fill="#0000CD"/>
<rect x="586.20" y="688.95" width="3.80" height="36.89" fill="#0000CD"/>
<rect x="596.10" y="688.95" width="3.70" height="36.89" fill="#0000CD"/>
<rect x="482.30" y="725.84" width="5.10" height="36.89" fill="#0000CD"/>
<rect x="511.20" y="725.84" width="3.70" height="36.89" fill="#0000CD"/>
<rect x="574.50" y="725.84" width="2.40" height="36.89" fill="#0000CD"/>
<rect x="591.30" y="725.84" width="1.90" height="36.89" fill="#0000CD"/>
<rect x="603.90" y="725.84" width="1.30" height="36.89" fill="#0000CD" fill-opacity="0.8"/>
<rect x="448.20" y="762.73" width="11.70" height="36.89" fill="#0000CD"/>
<rect x="468.20" y="762.73" width="2.90" height="36.89" fill="#0000CD"/>
<rect x="487.40" y="762.73" width="2.40" height="36.89" fill="#0000CD"/>
<rect x="505.00" y="762.73" width="2.30" height="36.89" fill="#0000CD"/>
<rect x="542.40" y="762.73" width="1.20" height="36.89" fill="#0000CD"/>
<rect x="545.50" y="762.73" width="1.40" height="36.89" fill="#0000CD"/>
<rect x="569.40" y="762.73" width="7.40" height="36.89" fill="#0000CD"/>
<rect x="578.10" y="762.73" width="0.90" height="36.89" fill="#0000CD"/>
<rect x="582.30" y="762.73" width="13.80" height="36.89" fill="#0000CD"/>
<rect x="599.80" y="762.73" width="4.10" height="36.89" fill="#0000CD"/>
<rect x="604.60" y="762.73" width="1.90" height="36.89" fill="#0000CD"/>
<rect x="421.60" y="799.62" width="14.90" height="36.89" fill="#0000CD"/>
<rect x="448.00" y="799.62" width="7.00" height="36.89" fill="#0000CD"/>
<rect x="459.90" y="799.62" width="28.00" height="36.89" fill="#0000CD"/>
<rect x="489.80" y="799.62" width="6.40" height="36.89" fill="#0000CD"/>
<rect x="505.00" y="799.62" width="5.80" height="36.89" fill="#0000CD"/>
<rect x="515.10" y="799.62" width="21.20" height="36.89" fill="#0000CD"/>
<rect x="542.80" y="799.62" width="4.40" height="36.89" fill="#0000CD"/>
<rect x="552.30" y="799.62" width="1.10" height="36.89" fill="#0000CD"/>
<rect x="566.90" y="799.62" width="9.90" height="36.89" fill="#0000CD"/>
<rect x="582.30" y="799.62" width="3.70" height="36.89" fill="#0000CD"/>
<rect x="590.10" y="799.62" width="0.90" height="36.89" fill="#0000CD"/>
<rect x="593.00" y="799.62" width="12.00" height="36.89" fill="#0000CD"/>
<rect x="606.20" y="799.62" width="0.80" height="36.89" fill="#0000CD"/>
<rect x="421.60" y="836.51" width="68.20" height="36.89" fill="#0000CD"/>
<rect x="491.80" y="836.51" width="92.10" height="36.89" fill="#0000CD"/>
<rect x="585.00" y="836.51" width="19.90" height="36.89" fill="#0000CD"/>
<rect x="605.60" y="836.51" width="1.40" height="36.89" fill="#0000CD"/>
<rect x="421.6" y="504.5" width="185.40" height="368.90" fill="none" stroke="#8a8a8a" stroke-width="1"/>
<path d="M421.6 522.95V854.95M607.0 522.95V854.95" stroke="#444" stroke-width="1" fill="none"/>
<path d="M413.1 522.95H421.6M607.0 522.95H615.5M413.1 559.84H421.6M607.0 559.84H615.5M413.1 596.73H421.6M607.0 596.73H615.5M413.1 633.62H421.6M607.0 633.62H615.5M413.1 670.50H421.6M607.0 670.50H615.5M413.1 707.39H421.6M607.0 707.39H615.5M413.1 744.28H421.6M607.0 744.28H615.5M413.1 781.17H421.6M607.0 781.17H615.5M413.1 818.07H421.6M607.0 818.07H615.5M413.1 854.95H421.6M607.0 854.95H615.5" stroke="#444" stroke-width="1" fill="none"/>
<text transform="translate(407.80,527.15) scale(1,1.11)" font-size="12.8" text-anchor="end" stroke="#000" stroke-width="0.2">SERPINA5</text>
<text transform="translate(620.70,527.15) scale(1,1.11)" font-size="12.8" stroke="#000" stroke-width="0.2">BF: 2.74</text>
<text transform="translate(407.80,564.04) scale(1,1.11)" font-size="12.8" text-anchor="end" stroke="#000" stroke-width="0.2">LRPAP1</text>
<text transform="translate(620.70,564.04) scale(1,1.11)" font-size="12.8" stroke="#000" stroke-width="0.2">BF: 3.79</text>
<text transform="translate(407.80,600.93) scale(1,1.11)" font-size="12.8" text-anchor="end" stroke="#000" stroke-width="0.2">PDGFA</text>
<text transform="translate(620.70,600.93) scale(1,1.11)" font-size="12.8" stroke="#000" stroke-width="0.2">BF: 4.06</text>
<text transform="translate(407.80,637.82) scale(1,1.11)" font-size="12.8" text-anchor="end" stroke="#000" stroke-width="0.2">LPL</text>
<text transform="translate(620.70,637.82) scale(1,1.11)" font-size="12.8" stroke="#000" stroke-width="0.2">BF: 4.18</text>
<text transform="translate(407.80,674.71) scale(1,1.11)" font-size="12.8" text-anchor="end" stroke="#000" stroke-width="0.2">NRP1</text>
<text transform="translate(620.70,674.71) scale(1,1.11)" font-size="12.8" stroke="#000" stroke-width="0.2">BF: 5.16</text>
<text transform="translate(407.80,711.60) scale(1,1.11)" font-size="12.8" text-anchor="end" stroke="#000" stroke-width="0.2">VCAN</text>
<text transform="translate(620.70,711.60) scale(1,1.11)" font-size="12.8" stroke="#000" stroke-width="0.2">BF: 5.52</text>
<text transform="translate(407.80,748.49) scale(1,1.11)" font-size="12.8" text-anchor="end" stroke="#000" stroke-width="0.2">VTN</text>
<text transform="translate(620.70,748.49) scale(1,1.11)" font-size="12.8" stroke="#000" stroke-width="0.2">BF: 5.97</text>
<text transform="translate(407.80,785.38) scale(1,1.11)" font-size="12.8" text-anchor="end" stroke="#000" stroke-width="0.2">ITGAV</text>
<text transform="translate(620.70,785.38) scale(1,1.11)" font-size="12.8" stroke="#000" stroke-width="0.2">BF: 17.63</text>
<text transform="translate(407.80,822.27) scale(1,1.11)" font-size="12.8" text-anchor="end" stroke="#000" stroke-width="0.2">PRG2</text>
<text transform="translate(620.70,822.27) scale(1,1.11)" font-size="12.8" stroke="#000" stroke-width="0.2">BF: 58.5</text>
<text transform="translate(407.80,859.15) scale(1,1.11)" font-size="12.8" text-anchor="end" stroke="#000" stroke-width="0.2">LUM</text>
<text transform="translate(620.70,859.15) scale(1,1.11)" font-size="12.8" stroke="#000" stroke-width="0.2">BF: 590.32</text>
<rect x="429.10" y="873.4" width="1.00" height="8.90" fill="#000"/>
<rect x="441.80" y="873.4" width="1.00" height="8.90" fill="#000"/>
<rect x="450.90" y="873.4" width="1.00" height="8.90" fill="#000"/>
<rect x="457.20" y="873.4" width="1.00" height="8.90" fill="#000"/>
<rect x="462.00" y="873.4" width="1.00" height="8.90" fill="#000"/>
<rect x="465.65" y="873.4" width="1.00" height="8.90" fill="#000"/>
<rect x="469.30" y="873.4" width="1.00" height="8.90" fill="#000"/>
<rect x="471.86" y="873.4" width="1.00" height="8.90" fill="#000"/>
<rect x="474.43" y="873.4" width="1.00" height="8.90" fill="#000"/>
<rect x="476.99" y="873.4" width="1.00" height="8.90" fill="#000"/>
<rect x="479.55" y="873.4" width="1.00" height="8.90" fill="#000"/>
<rect x="482.11" y="873.4" width="1.00" height="8.90" fill="#000"/>
<rect x="484.68" y="873.4" width="1.00" height="8.90" fill="#000"/>
<rect x="487.24" y="873.4" width="1.00" height="8.90" fill="#000"/>
<rect x="489.81" y="873.4" width="0.97" height="8.90" fill="#000"/>
<rect x="491.91" y="873.4" width="0.97" height="8.90" fill="#000"/>
<rect x="494.01" y="873.4" width="0.97" height="8.90" fill="#000"/>
<rect x="496.11" y="873.4" width="0.97" height="8.90" fill="#000"/>
<rect x="498.21" y="873.4" width="0.97" height="8.90" fill="#000"/>
<rect x="500.31" y="873.4" width="0.97" height="8.90" fill="#000"/>
<rect x="502.41" y="873.4" width="0.97" height="8.90" fill="#000"/>
<rect x="504.51" y="873.4" width="0.97" height="8.90" fill="#000"/>
<rect x="506.61" y="873.4" width="0.97" height="8.90" fill="#000"/>
<rect x="508.71" y="873.4" width="0.97" height="8.90" fill="#000"/>
<rect x="510.81" y="873.4" width="0.97" height="8.90" fill="#000"/>
<rect x="512.96" y="873.4" width="0.88" height="8.90" fill="#000"/>
<rect x="514.72" y="873.4" width="0.88" height="8.90" fill="#000"/>
<rect x="516.47" y="873.4" width="0.88" height="8.90" fill="#000"/>
<rect x="518.22" y="873.4" width="0.88" height="8.90" fill="#000"/>
<rect x="519.98" y="873.4" width="0.88" height="8.90" fill="#000"/>
<rect x="521.73" y="873.4" width="0.88" height="8.90" fill="#000"/>
<rect x="523.48" y="873.4" width="0.88" height="8.90" fill="#000"/>
<rect x="525.24" y="873.4" width="0.88" height="8.90" fill="#000"/>
<rect x="526.99" y="873.4" width="0.88" height="8.90" fill="#000"/>
<rect x="528.75" y="873.4" width="0.88" height="8.90" fill="#000"/>
<rect x="530.50" y="873.4" width="0.88" height="8.90" fill="#000"/>
<rect x="532.25" y="873.4" width="0.88" height="8.90" fill="#000"/>
<rect x="534.01" y="873.4" width="0.88" height="8.90" fill="#000"/>
<rect x="535.80" y="873.4" width="0.81" height="8.90" fill="#000"/>
<rect x="537.29" y="873.4" width="0.81" height="8.90" fill="#000"/>
<rect x="538.78" y="873.4" width="0.81" height="8.90" fill="#000"/>
<rect x="540.28" y="873.4" width="0.81" height="8.90" fill="#000"/>
<rect x="541.77" y="873.4" width="0.81" height="8.90" fill="#000"/>
<rect x="543.27" y="873.4" width="0.81" height="8.90" fill="#000"/>
<rect x="544.76" y="873.4" width="0.81" height="8.90" fill="#000"/>
<rect x="546.25" y="873.4" width="0.81" height="8.90" fill="#000"/>
<rect x="547.75" y="873.4" width="0.81" height="8.90" fill="#000"/>
<rect x="549.24" y="873.4" width="0.81" height="8.90" fill="#000"/>
<rect x="550.73" y="873.4" width="0.81" height="8.90" fill="#000"/>
<rect x="552.23" y="873.4" width="0.81" height="8.90" fill="#000"/>
<rect x="553.72" y="873.4" width="0.81" height="8.90" fill="#000"/>
<rect x="555.22" y="873.4" width="0.81" height="8.90" fill="#000"/>
<rect x="556.71" y="873.4" width="0.81" height="8.90" fill="#000"/>
<rect x="558.20" y="873.4" width="0.81" height="8.90" fill="#000"/>
<rect x="559.71" y="873.4" width="0.78" height="8.90" fill="#000"/>
<rect x="560.91" y="873.4" width="0.78" height="8.90" fill="#000"/>
<rect x="562.11" y="873.4" width="0.78" height="8.90" fill="#000"/>
<rect x="563.31" y="873.4" width="0.78" height="8.90" fill="#000"/>
<rect x="564.51" y="873.4" width="0.78" height="8.90" fill="#000"/>
<rect x="565.71" y="873.4" width="0.78" height="8.90" fill="#000"/>
<rect x="566.91" y="873.4" width="0.78" height="8.90" fill="#000"/>
<rect x="568.11" y="873.4" width="0.78" height="8.90" fill="#000"/>
<rect x="569.31" y="873.4" width="0.78" height="8.90" fill="#000"/>
<rect x="570.51" y="873.4" width="0.78" height="8.90" fill="#000"/>
<rect x="571.71" y="873.4" width="0.78" height="8.90" fill="#000"/>
<rect x="572.91" y="873.4" width="0.78" height="8.90" fill="#000"/>
<rect x="574.11" y="873.4" width="0.78" height="8.90" fill="#000"/>
<rect x="575.31" y="873.4" width="0.78" height="8.90" fill="#000"/>
<rect x="576.51" y="873.4" width="0.78" height="8.90" fill="#000"/>
<rect x="577.71" y="873.4" width="0.78" height="8.90" fill="#000"/>
<rect x="578.91" y="873.4" width="0.78" height="8.90" fill="#000"/>
<rect x="580.11" y="873.4" width="0.78" height="8.90" fill="#000"/>
<rect x="581.31" y="873.4" width="0.78" height="8.90" fill="#000"/>
<rect x="582.51" y="873.4" width="0.78" height="8.90" fill="#000"/>
<rect x="583.33" y="873.4" width="0.78" height="8.90" fill="#000"/>
<rect x="584.15" y="873.4" width="0.78" height="8.90" fill="#000"/>
<rect x="584.97" y="873.4" width="0.78" height="8.90" fill="#000"/>
<rect x="585.78" y="873.4" width="0.78" height="8.90" fill="#000"/>
<rect x="586.60" y="873.4" width="0.78" height="8.90" fill="#000"/>
<rect x="587.42" y="873.4" width="0.78" height="8.90" fill="#000"/>
<rect x="588.24" y="873.4" width="0.78" height="8.90" fill="#000"/>
<rect x="589.06" y="873.4" width="0.78" height="8.90" fill="#000"/>
<rect x="589.88" y="873.4" width="0.78" height="8.90" fill="#000"/>
<rect x="590.70" y="873.4" width="0.78" height="8.90" fill="#000"/>
<rect x="591.52" y="873.4" width="0.78" height="8.90" fill="#000"/>
<rect x="592.34" y="873.4" width="0.78" height="8.90" fill="#000"/>
<rect x="593.15" y="873.4" width="0.78" height="8.90" fill="#000"/>
<rect x="593.97" y="873.4" width="0.78" height="8.90" fill="#000"/>
<rect x="594.79" y="873.4" width="0.78" height="8.90" fill="#000"/>
<rect x="595.61" y="873.4" width="0.78" height="8.90" fill="#000"/>
<rect x="596.03" y="873.4" width="0.78" height="8.90" fill="#000"/>
<rect x="596.46" y="873.4" width="0.78" height="8.90" fill="#000"/>
<rect x="596.88" y="873.4" width="0.78" height="8.90" fill="#000"/>
<rect x="597.31" y="873.4" width="0.78" height="8.90" fill="#000"/>
<rect x="597.73" y="873.4" width="0.78" height="8.90" fill="#000"/>
<rect x="598.15" y="873.4" width="0.78" height="8.90" fill="#000"/>
<rect x="598.58" y="873.4" width="0.78" height="8.90" fill="#000"/>
<rect x="599.00" y="873.4" width="0.78" height="8.90" fill="#000"/>
<rect x="599.43" y="873.4" width="0.78" height="8.90" fill="#000"/>
<rect x="599.85" y="873.4" width="0.78" height="8.90" fill="#000"/>
<rect x="600.27" y="873.4" width="0.78" height="8.90" fill="#000"/>
<rect x="600.70" y="873.4" width="0.78" height="8.90" fill="#000"/>
<rect x="601.12" y="873.4" width="0.78" height="8.90" fill="#000"/>
<rect x="601.55" y="873.4" width="0.78" height="8.90" fill="#000"/>
<rect x="601.97" y="873.4" width="0.78" height="8.90" fill="#000"/>
<rect x="602.39" y="873.4" width="0.78" height="8.90" fill="#000"/>
<rect x="602.82" y="873.4" width="0.78" height="8.90" fill="#000"/>
<rect x="603.24" y="873.4" width="0.78" height="8.90" fill="#000"/>
<rect x="603.67" y="873.4" width="0.78" height="8.90" fill="#000"/>
<rect x="604.09" y="873.4" width="0.78" height="8.90" fill="#000"/>
<rect x="604.51" y="873.4" width="0.78" height="8.90" fill="#000"/>
<rect x="604.94" y="873.4" width="0.78" height="8.90" fill="#000"/>
<rect x="605.36" y="873.4" width="0.78" height="8.90" fill="#000"/>
<rect x="605.79" y="873.4" width="0.78" height="8.90" fill="#000"/>
<rect x="606.21" y="873.4" width="0.78" height="8.90" fill="#000"/>
<text transform="translate(429.00,896.60) scale(1,1.11)" font-size="12.8" text-anchor="middle" stroke="#000" stroke-width="0.2">1</text>
<text transform="translate(450.90,896.60) scale(1,1.11)" font-size="12.8" text-anchor="middle" stroke="#000" stroke-width="0.2">3</text>
<text transform="translate(469.60,896.60) scale(1,1.11)" font-size="12.8" text-anchor="middle" stroke="#000" stroke-width="0.2">7</text>
<text transform="translate(490.30,896.60) scale(1,1.11)" font-size="12.8" text-anchor="middle" stroke="#000" stroke-width="0.2">15</text>
<text transform="translate(513.40,896.60) scale(1,1.11)" font-size="12.8" text-anchor="middle" stroke="#000" stroke-width="0.2">26</text>
<text transform="translate(536.20,896.60) scale(1,1.11)" font-size="12.8" text-anchor="middle" stroke="#000" stroke-width="0.2">39</text>
<text transform="translate(560.10,896.60) scale(1,1.11)" font-size="12.8" text-anchor="middle" stroke="#000" stroke-width="0.2">55</text>
<text transform="translate(582.90,896.60) scale(1,1.11)" font-size="12.8" text-anchor="middle" stroke="#000" stroke-width="0.2">74</text>
</g>
</svg></body></html>
